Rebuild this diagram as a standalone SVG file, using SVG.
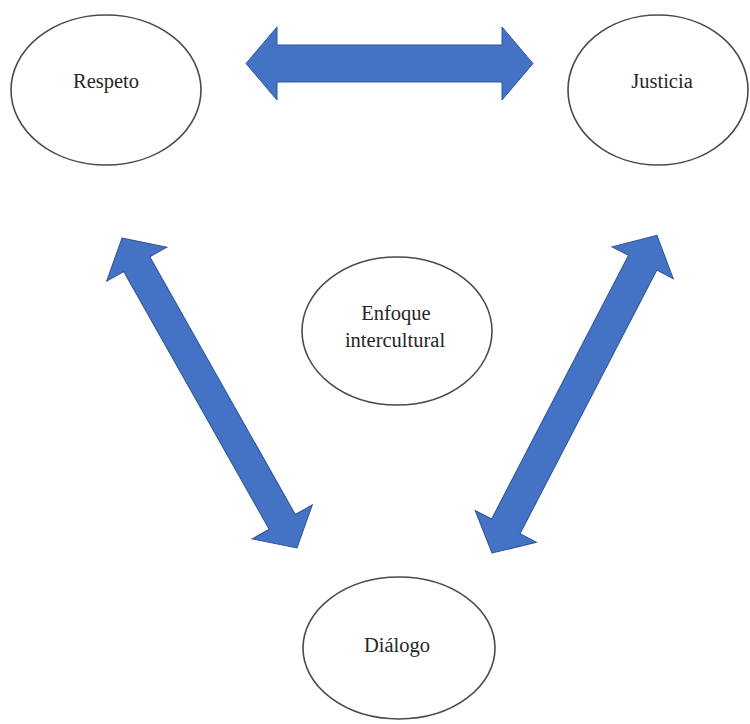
<svg xmlns="http://www.w3.org/2000/svg" width="750" height="724" viewBox="0 0 750 724">
  <style>
    .node ellipse { fill: #ffffff; stroke: #4a4a4a; stroke-width: 1.6; }
    .node text { font-family: "Liberation Serif", "Times New Roman", serif; font-size: 20.5px; fill: #262626; text-anchor: middle; }
    .arrow { fill: #4472c4; stroke: #2f5597; stroke-width: 1; stroke-linejoin: miter; }
  </style>
  <rect x="0" y="0" width="750" height="724" fill="#ffffff"/>
  <g id="connectors">
    <polygon class="arrow" points="246,63.5 277,27 277,45 502,45 502,27 533,63.5 502,100 502,82 277,82 277,100"/>
    <polygon class="arrow" transform="translate(122,238) rotate(60.56)" points="0,0 30,-34.5 30,-15 326,-15 326,-34.5 356,0 326,34.5 326,15 30,15 30,34.5"/>
    <polygon class="arrow" transform="translate(492,553) rotate(-62.57)" points="0,0 30,-34.5 30,-16 327,-16 327,-34.5 358,0 327,34.5 327,16 30,16 30,34.5"/>
  </g>
  <g id="node-respeto" class="node">
    <ellipse cx="106" cy="90" rx="95" ry="75"/>
    <text x="106" y="88">Respeto</text>
  </g>
  <g id="node-justicia" class="node">
    <ellipse cx="658" cy="90" rx="90" ry="75"/>
    <text x="662" y="88">Justicia</text>
  </g>
  <g id="node-enfoque" class="node">
    <ellipse cx="397" cy="331" rx="95" ry="74"/>
    <text x="396" y="320">Enfoque</text>
    <text x="395" y="347">intercultural</text>
  </g>
  <g id="node-dialogo" class="node">
    <ellipse cx="399" cy="648" rx="96" ry="71"/>
    <text x="397" y="652">Diálogo</text>
  </g>
</svg>
